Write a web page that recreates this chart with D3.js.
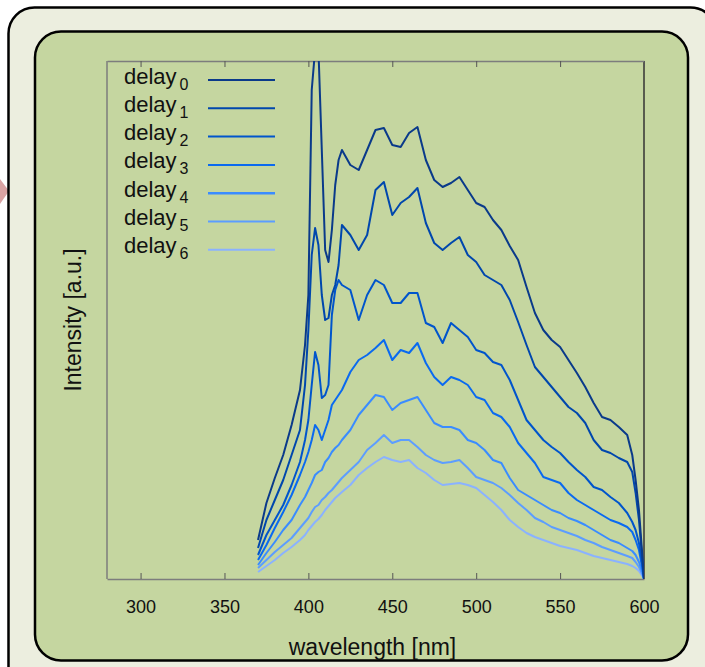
<!DOCTYPE html>
<html>
<head>
<meta charset="utf-8">
<script src="https://cdn.jsdelivr.net/npm/d3@7"></script>
<style>
  body { margin: 0; background: #fff; }
  svg { display: block; }
  text { font-family: "Liberation Sans", Arial, sans-serif; fill: #111; }
</style>
</head>
<body>
<div id="chart"></div>
<script>
// wavelength grid (nm) shared by every delay spectrum
var wavelength = [370, 375, 380, 385, 390, 395,
    398, 400, 402, 404, 406, 408, 410, 412, 414, 416, 418, 420,
    425, 430, 435, 440, 445, 450, 455, 460, 465, 470, 475, 480, 485, 490, 495, 500,
    505, 510, 515, 520, 525, 530, 535, 540, 545, 550, 555, 560, 565, 570, 575, 580, 585, 590,
    593, 595, 597, 599, 600];

// intensities (a.u.)
var delay0 = [39, 76, 101, 124, 154, 189,
    234, 284, 489, 529, 529, 429, 329, 317, 349, 394, 419, 429,
    414, 409, 429, 449, 451, 434, 432, 446, 452, 419, 399, 392, 396, 402, 389, 376,
    372, 359, 349, 333, 319, 292, 266, 249, 239, 232, 219, 206, 192, 176, 162, 159, 152, 144,
    124, 99, 69, 24, 0];
var delay1 = [31, 59, 79, 99, 124, 149,
    194, 249, 324, 351, 334, 284, 259, 261, 284, 294, 314, 354,
    344, 329, 344, 389, 397, 364, 376, 382, 391, 356, 336, 329, 336, 342, 324, 317,
    304, 299, 294, 279, 257, 234, 212, 202, 192, 182, 172, 166, 156, 139, 129, 126, 121, 117,
    107, 86, 59, 19, 0];
var delay2 = [24, 44, 59, 74, 94, 117,
    139, 159, 194, 227, 214, 181, 184, 194, 264, 289, 299, 294,
    289, 259, 284, 299, 294, 276, 276, 286, 286, 256, 252, 236, 256, 249, 242, 229,
    226, 217, 214, 199, 179, 159, 149, 139, 132, 126, 117, 109, 102, 92, 89, 82, 76, 66,
    57, 49, 36, 14, 0];
var delay3 = [19, 34, 51, 67, 84, 104,
    117, 127, 139, 154, 149, 139, 149, 159, 174, 179, 184, 189,
    207, 219, 224, 231, 239, 219, 229, 226, 236, 216, 202, 194, 202, 199, 194, 182,
    179, 166, 162, 152, 136, 126, 116, 102, 99, 96, 86, 79, 74, 69, 64, 59, 56, 52,
    47, 39, 29, 11, 0];
var delay4 = [14, 26, 37, 49, 59, 74,
    82, 89, 96, 104, 107, 109, 117, 121, 127, 131, 134, 139,
    149, 164, 174, 184, 182, 169, 176, 179, 182, 169, 156, 152, 152, 149, 139, 136,
    129, 119, 116, 101, 89, 84, 79, 74, 69, 66, 61, 58, 54, 49, 44, 39, 36, 31,
    28, 24, 17, 7, 0];
var delay5 = [11, 19, 27, 34, 41, 51,
    57, 61, 67, 72, 74, 79, 82, 86, 89, 93, 97, 101,
    109, 117, 129, 136, 144, 136, 139, 139, 132, 124, 119, 116, 117, 119, 111, 102,
    99, 96, 91, 84, 76, 69, 61, 57, 52, 49, 46, 43, 39, 36, 32, 29, 26, 23,
    21, 17, 12, 5, 0];
var delay6 = [7, 13, 19, 26, 32, 39,
    44, 49, 53, 57, 60, 64, 69, 73, 77, 81, 84, 87,
    94, 104, 111, 117, 122, 119, 117, 119, 111, 106, 99, 94, 95, 96, 94, 91,
    84, 77, 69, 59, 52, 46, 42, 39, 36, 33, 31, 29, 26, 23, 21, 19, 17, 15,
    13, 11, 8, 3, 0];

var seriesLabels = ["0", "1", "2", "3", "4", "5", "6"];
var seriesValues = [delay0, delay1, delay2, delay3, delay4, delay5, delay6];
var colors = ["#0a3a8a", "#0047ad", "#0055cc", "#0a6af0", "#3a8cff", "#5c9dff", "#8ab2ff"];
var xTicks = [300, 350, 400, 450, 500, 550, 600];

var width = 705, height = 667;
var plotLeft = 107, plotRight = 644, plotTop = 61, plotBottom = 579;

var svg = d3.select("#chart").append("svg")
    .attr("width", width)
    .attr("height", height);

// little pink marker on the left edge
svg.append("path")
    .attr("d", "M0,179 L9,191 L0,204 Z")
    .attr("fill", "#d9a3a3");

// outer and inner rounded panels
svg.append("rect")
    .attr("x", 8.5).attr("y", 7.5)
    .attr("width", 708).attr("height", 700)
    .attr("rx", 26)
    .attr("fill", "#eceedf")
    .attr("stroke", "#000")
    .attr("stroke-width", 2.5);

svg.append("rect")
    .attr("x", 35).attr("y", 31.5)
    .attr("width", 653).attr("height", 629)
    .attr("rx", 26)
    .attr("fill", "#c5d6a0")
    .attr("stroke", "#000")
    .attr("stroke-width", 2.5);

var x = d3.scaleLinear().domain([280, 600]).range([plotLeft, plotRight]);
var y = d3.scaleLinear().domain([0, 518]).range([plotBottom, plotTop]);

svg.append("defs").append("clipPath")
    .attr("id", "plotclip")
    .append("rect")
    .attr("x", plotLeft).attr("y", plotTop)
    .attr("width", plotRight - plotLeft).attr("height", plotBottom - plotTop);

// frame lines
svg.append("line")
    .attr("x1", plotLeft).attr("x2", plotLeft).attr("y1", plotTop).attr("y2", plotBottom)
    .attr("stroke", "#7d7d7d").attr("stroke-width", 1.5);
svg.append("line")
    .attr("x1", plotRight).attr("x2", plotRight).attr("y1", plotTop).attr("y2", plotBottom)
    .attr("stroke", "#333").attr("stroke-width", 1.5);

var xAxis = svg.append("g")
    .attr("transform", "translate(0," + plotBottom + ")")
    .call(d3.axisBottom(x).tickValues(xTicks).tickSizeInner(-6).tickSizeOuter(0).tickPadding(21));
xAxis.select(".domain").attr("stroke", "#7d7d7d").attr("stroke-width", 1.5);
xAxis.selectAll(".tick line").attr("stroke", "#555");
xAxis.selectAll(".tick text")
    .style("font-family", '"Liberation Sans", Arial, sans-serif')
    .style("font-size", "18px")
    .attr("fill", "#111");

var xTop = svg.append("g")
    .attr("transform", "translate(0," + plotTop + ")")
    .call(d3.axisTop(x).tickValues(xTicks).tickSizeInner(-6).tickSizeOuter(0).tickFormat(""));
xTop.select(".domain").attr("stroke", "#7d7d7d").attr("stroke-width", 1.5);
xTop.selectAll(".tick line").attr("stroke", "#555");

// spectra, faintest first so the dark ones sit on top
var line = d3.line()
    .x(function(d, i) { return x(wavelength[i]); })
    .y(function(d) { return y(d); });

var curves = svg.append("g").attr("clip-path", "url(#plotclip)");
for (var k = seriesValues.length - 1; k >= 0; k--) {
    curves.append("path")
        .datum(seriesValues[k])
        .attr("fill", "none")
        .attr("stroke", colors[k])
        .attr("stroke-width", 2)
        .attr("stroke-linejoin", "round")
        .attr("d", line);
}

// legend
var legend = svg.append("g");
seriesLabels.forEach(function(lab, i) {
    var ly = 80 + i * 28.3;
    var t = legend.append("text")
        .attr("x", 124)
        .attr("y", ly + 3.5)
        .style("font-size", "22px")
        .text("delay");
    t.append("tspan")
        .attr("dx", 3)
        .attr("dy", 6)
        .style("font-size", "16px")
        .text(lab);
    legend.append("line")
        .attr("x1", 208).attr("x2", 275)
        .attr("y1", ly).attr("y2", ly)
        .attr("stroke", colors[i])
        .attr("stroke-width", i == 4 ? 2.5 : 2);
});

// axis titles
svg.append("text")
    .attr("x", 372.5)
    .attr("y", 655)
    .attr("text-anchor", "middle")
    .style("font-size", "23px")
    .text("wavelength [nm]");

svg.append("text")
    .attr("transform", "translate(81,320) rotate(-90)")
    .attr("text-anchor", "middle")
    .style("font-size", "23px")
    .text("Intensity [a.u.]");
</script>
</body>
</html>
